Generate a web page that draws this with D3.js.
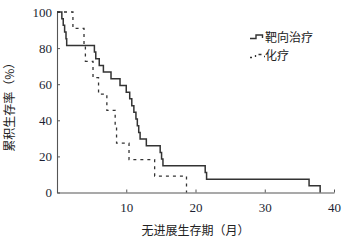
<!DOCTYPE html>
<html>
<head>
<meta charset="utf-8">
<script src="https://cdn.jsdelivr.net/npm/d3@7"></script>
<style>
  body { margin: 0; background: #fff; }
  svg { display: block; }
  .tick text { font-family: "Liberation Serif", serif; font-size: 13px; fill: #1c1f33; }
  .cn { font-family: "Noto Sans CJK SC", sans-serif; font-size: 12px; fill: #222; }
</style>
</head>
<body>
<div id="chart"></div>
<script>
// 靶向治疗 (solid) - event times (months) and survival (%) after each event
var targetTimes = [0, 0.7, 0.9, 1.1, 1.3, 1.4, 5.4, 5.6, 6.1, 6.7, 7.8, 9.1, 10.0, 10.5, 10.8, 11.1, 11.4, 11.6, 11.8, 12.0, 12.9, 14.9, 15.1, 15.3, 21.4, 21.6, 36.4, 38.0];
var targetSurv  = [100, 96.3, 92.6, 88.9, 85.2, 81.5, 77.8, 74.1, 70.4, 66.7, 63.0, 59.3, 55.6, 51.9, 48.1, 44.4, 40.7, 37.0, 33.3, 29.6, 25.9, 22.2, 18.5, 14.8, 11.1, 7.4, 3.7, 0];

// 化疗 (dashed)
var chemoTimes = [0, 2.3, 3.9, 4.1, 5.2, 6.0, 7.2, 8.4, 8.6, 10.4, 14.1, 18.7];
var chemoSurv  = [100, 90.9, 81.8, 72.7, 63.6, 54.5, 45.5, 36.4, 27.3, 18.2, 9.1, 0];

var xTicks = [10, 20, 30, 40];
var yTicks = [0, 20, 40, 60, 80, 100];
var seriesNames = ["靶向治疗", "化疗"];

var width = 348, height = 244;
var svg = d3.select('#chart').append('svg')
    .attr('width', width)
    .attr('height', height);

var x = d3.scaleLinear().domain([0, 40]).range([57, 334]);
var y = d3.scaleLinear().domain([0, 100]).range([192.5, 12]);

// axes, ticks pointing inward
var xAxis = svg.append('g')
    .attr('transform', `translate(0,${y(0)})`)
    .call(d3.axisBottom(x).tickValues(xTicks).tickSizeInner(-3).tickSizeOuter(0).tickPadding(10));
var yAxis = svg.append('g')
    .attr('transform', `translate(${x(0)},0)`)
    .call(d3.axisLeft(y).tickValues(yTicks).tickSizeInner(-3).tickSizeOuter(0).tickPadding(5));

svg.selectAll('.domain').attr('stroke', '#555').attr('stroke-width', 1.1);
svg.selectAll('.tick line').attr('stroke', '#555');

// step curves
var line = d3.line()
    .x(d => x(d[0]))
    .y(d => y(d[1]))
    .curve(d3.curveStepAfter);

var targetData = targetTimes.map((t, i) => [t, targetSurv[i]]);
var chemoData = chemoTimes.map((t, i) => [t, chemoSurv[i]]);

svg.append('path')
    .datum(chemoData)
    .attr('d', line)
    .attr('fill', 'none')
    .attr('stroke', '#333')
    .attr('stroke-width', 1.3)
    .attr('stroke-dasharray', '3,4');

svg.append('path')
    .datum(targetData)
    .attr('d', line)
    .attr('fill', 'none')
    .attr('stroke', '#333')
    .attr('stroke-width', 1.5);

// legend
var legend = svg.append('g');
legend.append('path')
    .attr('d', 'M250,38.5 H256 V35 H262.5 V38')
    .attr('fill', 'none').attr('stroke', '#333').attr('stroke-width', 1.4);
legend.append('text').attr('class', 'cn').attr('x', 265).attr('y', 42).text(seriesNames[0]);

legend.append('path')
    .attr('d', 'M250,57.5 H252 M255.5,55 V57 M258.5,54.5 H261.5 M264,56.5 H265')
    .attr('fill', 'none').attr('stroke', '#333').attr('stroke-width', 1.3);
legend.append('text').attr('class', 'cn').attr('x', 265).attr('y', 60).text(seriesNames[1]);

// axis titles
svg.append('text')
    .attr('class', 'cn')
    .attr('text-anchor', 'middle')
    .attr('transform', `translate(14,${(y(0) + y(100)) / 2 + 2})rotate(-90)`)
    .text('累积生存率（%）');

svg.append('text')
    .attr('class', 'cn')
    .attr('text-anchor', 'middle')
    .attr('x', (x(0) + x(40)) / 2)
    .attr('y', 235)
    .text('无进展生存期（月）');
</script>
</body>
</html>
